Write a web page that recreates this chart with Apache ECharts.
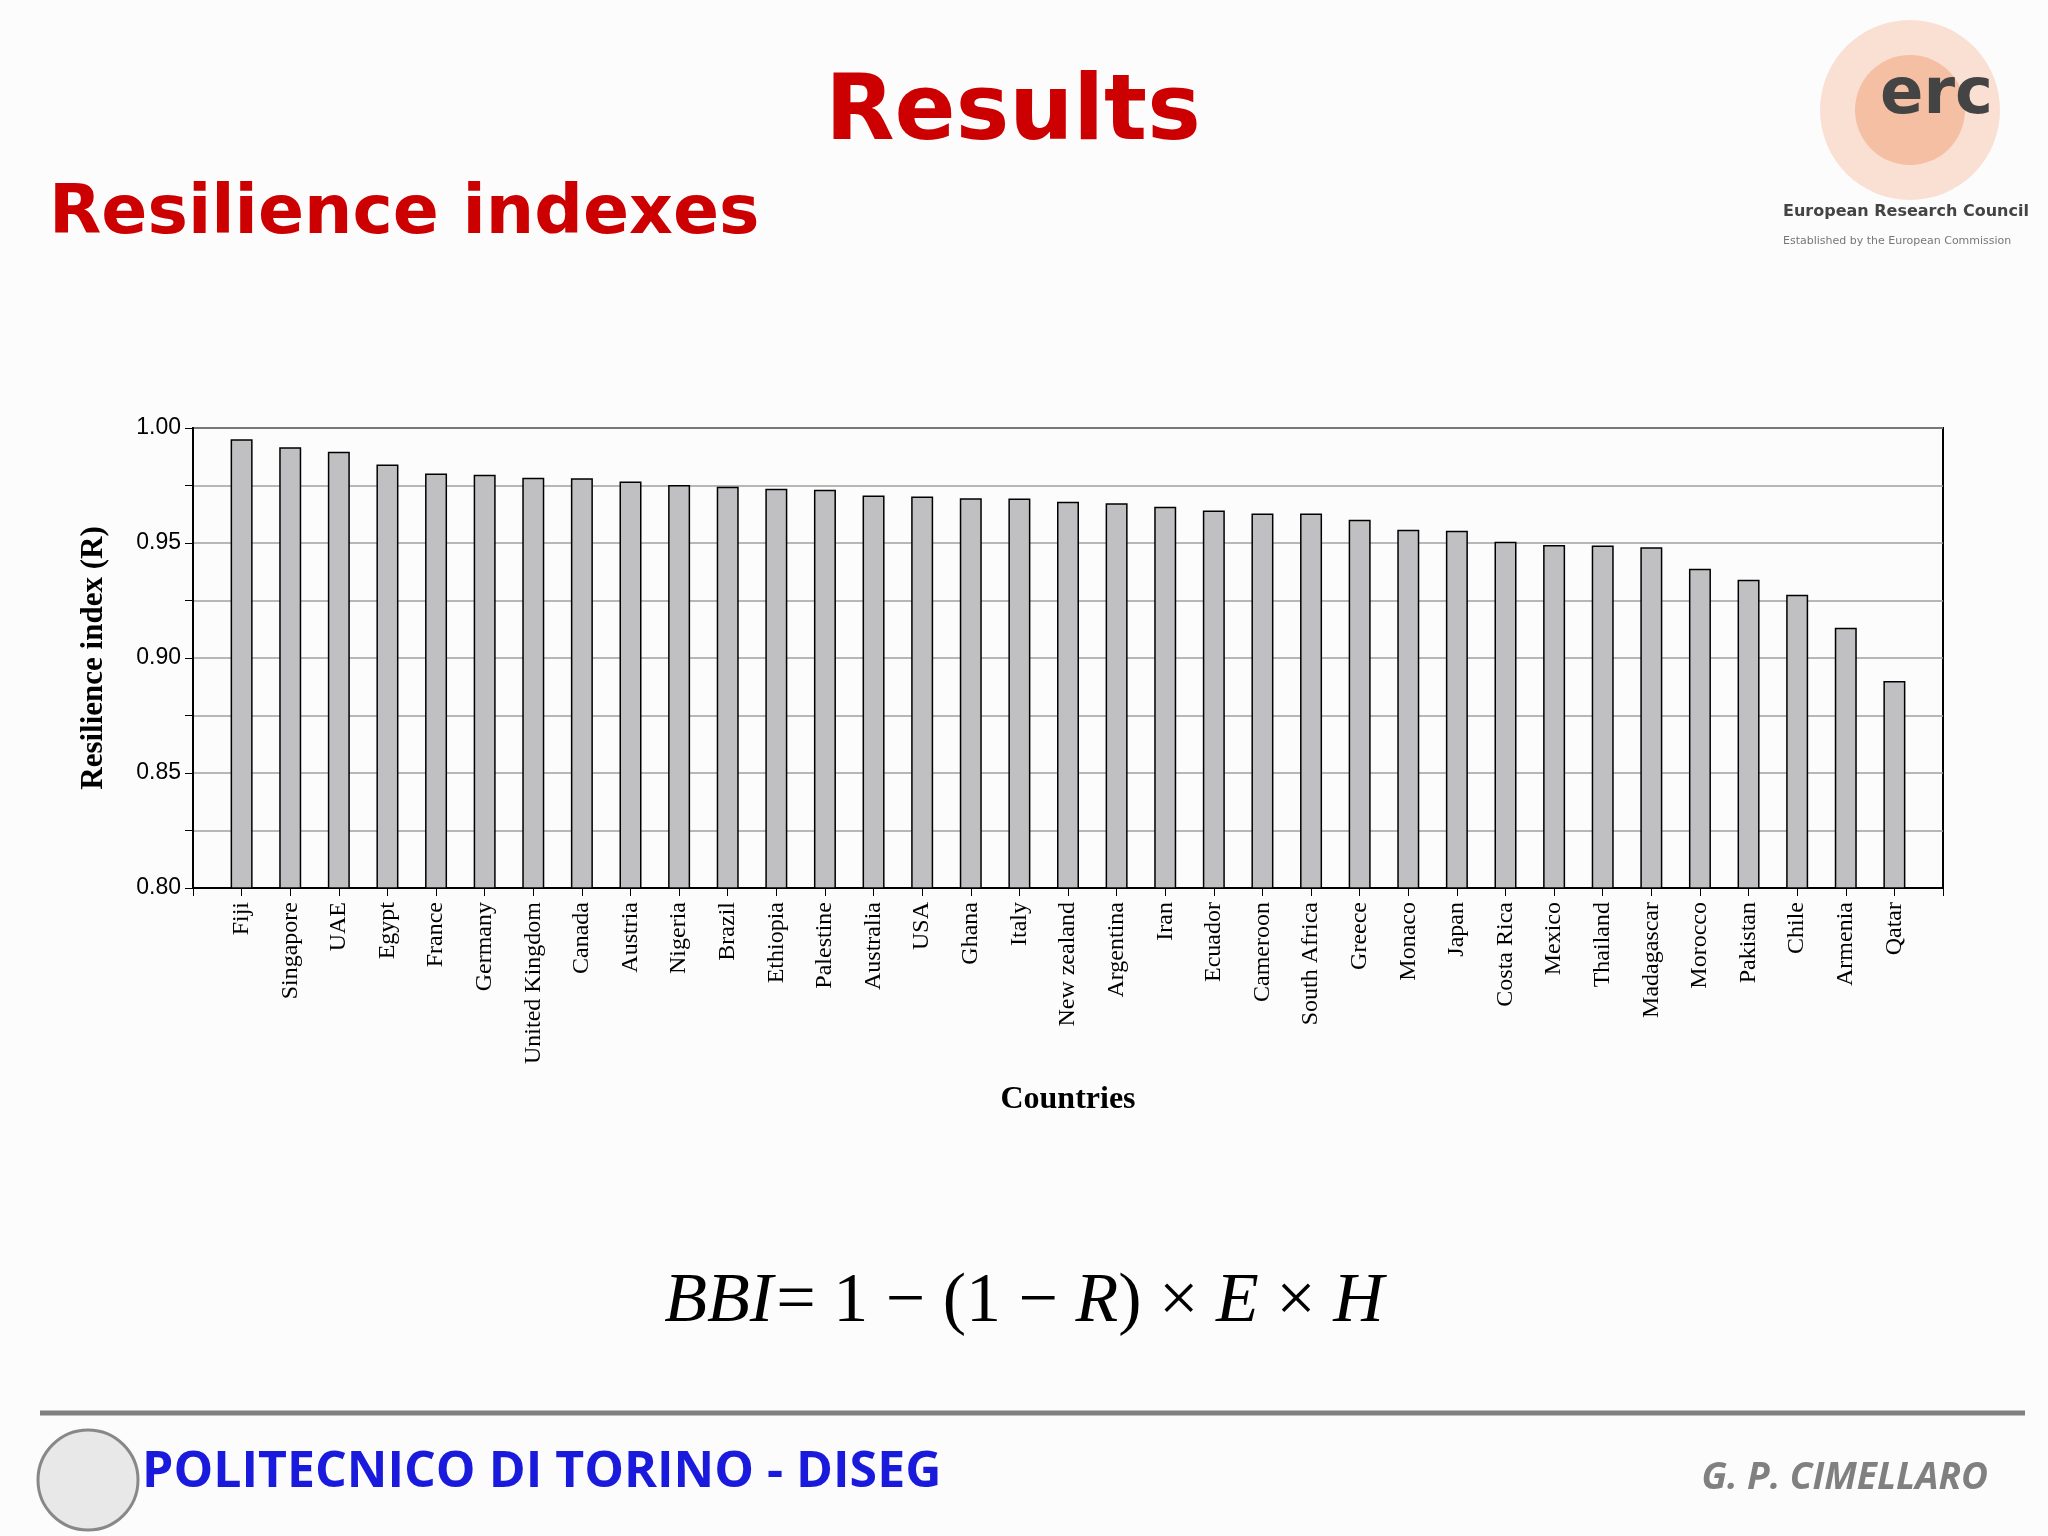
<!DOCTYPE html>
<html><head><meta charset="utf-8">
<script src="https://cdn.jsdelivr.net/npm/echarts@6/dist/echarts.min.js"></script>
<style>html,body{margin:0;padding:0;background:#fdfcfd}#c{width:2048px;height:1536px}</style>
</head><body><div id="c"></div>
<script>
const countries = ["Fiji","Singapore","UAE","Egypt","France","Germany","United Kingdom","Canada","Austria","Nigeria","Brazil","Ethiopia","Palestine","Australia","USA","Ghana","Italy","New zealand","Argentina","Iran","Ecuador","Cameroon","South Africa","Greece","Monaco","Japan","Costa Rica","Mexico","Thailand","Madagascar","Morocco","Pakistan","Chile","Armenia","Qatar"];
const resilience = [0.9951,0.9916,0.9897,0.9841,0.9802,0.9797,0.9784,0.9781,0.9767,0.9752,0.9745,0.9736,0.9731,0.9706,0.9702,0.9695,0.9693,0.9679,0.9673,0.9658,0.9641,0.9628,0.9628,0.9601,0.9558,0.9553,0.9505,0.9491,0.9489,0.9481,0.9388,0.9340,0.9275,0.9131,0.8900];

const cats = [''].concat(countries, ['']);
const vals = [null].concat(resilience, [null]);

const chart = echarts.init(document.getElementById('c'));
const ff = '"Times New Roman", "Liberation Serif"';
chart.setOption({
  backgroundColor:'#fdfcfd',
  animation:false,
  title:[
    {text:'Results',left:1008,top:66,textAlign:'center',textStyle:{fontFamily:'Verdana, DejaVu Sans',fontWeight:'bold',fontSize:90,color:'#cc0000'}},
    {text:'Resilience indexes',left:44,top:176,textStyle:{fontFamily:'Verdana, DejaVu Sans',fontWeight:'bold',fontSize:68,color:'#cc0000'}}
  ],
  grid:{left:193,right:105,top:428,bottom:648,show:true,borderColor:'#000',borderWidth:2,backgroundColor:'transparent'},
  xAxis:{type:'category',data:cats,boundaryGap:false,
    axisLine:{lineStyle:{color:'#000',width:2}},
    axisTick:{show:true,interval:0,length:8,lineStyle:{color:'#000'}},
    axisLabel:{rotate:90,interval:0,fontFamily:'Times New Roman, Liberation Serif',fontSize:24,color:'#000',margin:14},
    name:'Countries',nameLocation:'middle',nameGap:196,
    nameTextStyle:{fontFamily:'Times New Roman, Liberation Serif',fontWeight:'bold',fontSize:32,color:'#000'}},
  yAxis:{type:'value',min:0.8,max:1.0,interval:0.025,
    axisLine:{show:true,lineStyle:{color:'#000',width:2}},
    axisTick:{show:true,length:8,lineStyle:{color:'#000'}},
    splitLine:{lineStyle:{color:'#a0a0a0',width:1.5}},
    axisLabel:{fontFamily:'Arial, Liberation Sans',fontSize:23,color:'#000',margin:12,
      formatter:v=>Math.round(v*1000)%50===0?v.toFixed(2):''},
    name:'Resilience index (R)',nameLocation:'middle',nameGap:84,
    nameTextStyle:{fontFamily:'Times New Roman, Liberation Serif',fontWeight:'bold',fontSize:31,color:'#000'}},
  series:[{type:'bar',data:vals,barWidth:22,
    itemStyle:{color:'#c0bfc2',borderColor:'#000',borderWidth:1.5}}],
  graphic:[
    {type:'text',left:'center',top:1268,style:{
      text:'{i|BBI} {u|= 1 − (1 − }{i|R}{u|) × }{i|E}{u| × }{i|H}',
      rich:{i:{fontFamily:ff,fontStyle:'italic',fontSize:70,fill:'#000',color:'#000'},u:{fontFamily:ff,fontSize:70,color:'#000',fill:'#000'}}}},
    {type:'line',shape:{x1:40,y1:1413,x2:2025,y2:1413},style:{stroke:'#808080',lineWidth:5}},
    {type:'circle',shape:{cx:88,cy:1480,r:50},style:{fill:'#e8e8e8',stroke:'#888',lineWidth:3}},
    {type:'text',left:142,top:1448,style:{text:'POLITECNICO DI TORINO - DISEG',font:'bold 50px "Open Sans", "DejaVu Sans"',fill:'#1a1adc'}},
    {type:'text',right:60,top:1460,style:{text:'G. P. CIMELLARO',font:'italic bold 37px "Open Sans", "DejaVu Sans"',fill:'#808080'}},
    {type:'circle',shape:{cx:1910,cy:110,r:90},style:{fill:'#f4a070',opacity:0.3}},
    {type:'circle',shape:{cx:1910,cy:110,r:55},style:{fill:'#ec8050',opacity:0.35}},
    {type:'text',left:1880,top:64,style:{text:'erc',font:'bold 64px "DejaVu Sans"',fill:'#444'}},
    {type:'text',left:1783,top:204,style:{text:'European Research Council',font:'bold 16px "DejaVu Sans"',fill:'#444'}},
    {type:'text',left:1783,top:236,style:{text:'Established by the European Commission',font:'11px "DejaVu Sans"',fill:'#777'}}
  ]
});
</script></body></html>
